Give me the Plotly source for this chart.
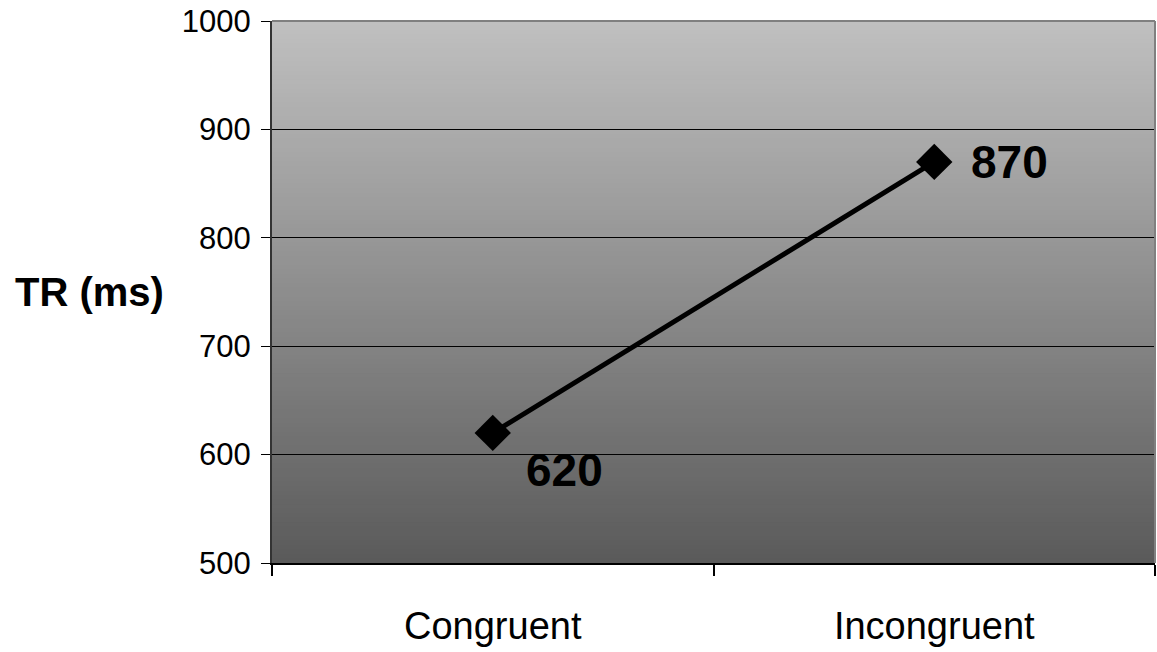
import plotly.graph_objects as go

categories = ["Congruent", "Incongruent"]
values = [620, 870]
value_labels = ["620", "870"]
label_xshift = [31, 35]
label_yshift = [-37, 0]
y_ticks = [500, 600, 700, 800, 900, 1000]

FONT = "Liberation Sans, Arial, sans-serif"

fig = go.Figure()
fig.add_trace(go.Scatter(
    x=categories, y=values, mode="lines+markers",
    line=dict(color="black", width=5),
    marker=dict(symbol="diamond", size=28, color="black"),
    hoverinfo="skip", showlegend=False,
))

# gradient background: overlapping bands from dark (bottom) to light (top)
n = 120
top, bot = 192, 90
shapes = []
for i in range(n):
    f = (i + 0.5) / n
    c = round(bot + (top - bot) * f)
    shapes.append(dict(
        type="rect", xref="x domain", yref="y domain",
        x0=0, x1=1, y0=i / n, y1=1,
        fillcolor=f"rgb({c},{c},{c})", line=dict(width=0), layer="below",
    ))
# top and right borders
shapes.append(dict(type="line", xref="x domain", yref="y domain", x0=0, x1=1, y0=1, y1=1,
                   line=dict(color="#808080", width=2), layer="above"))
shapes.append(dict(type="line", xref="x domain", yref="y domain", x0=1, x1=1, y0=0, y1=1,
                   line=dict(color="#808080", width=2), layer="above"))

annotations = []
for cat, v, t, dx, dy in zip(categories, values, value_labels, label_xshift, label_yshift):
    annotations.append(dict(
        x=cat, y=v, xref="x", yref="y", text=t, showarrow=False,
        xanchor="left", yanchor="middle", xshift=dx, yshift=dy,
        font=dict(family=FONT, size=46, color="black", weight="bold"),
    ))
annotations.append(dict(
    x=0, xref="paper", xanchor="right", xshift=-106, y=0.5, yref="paper", yanchor="middle",
    text="TR (ms)", showarrow=False,
    font=dict(family=FONT, size=40, color="black", weight="bold"),
))

fig.update_layout(
    width=1157, height=652,
    margin=dict(l=272, r=2, t=21, b=89),
    paper_bgcolor="white", plot_bgcolor="rgba(0,0,0,0)",
    shapes=shapes, annotations=annotations,
    xaxis=dict(
        type="category", range=[-0.5, 1.5], tickson="boundaries",
        ticks="outside", ticklen=11, tickwidth=2, tickcolor="black",
        showline=True, linecolor="black", linewidth=2, showgrid=False,
        tickfont=dict(family=FONT, size=38, color="black"),
        ticklabelstandoff=28,
    ),
    yaxis=dict(
        range=[500, 1000], tickvals=y_ticks, ticktext=[str(v) for v in y_ticks],
        ticks="outside", ticklen=9, tickwidth=1, tickcolor="black",
        showline=True, linecolor="#333333", linewidth=2,
        showgrid=True, gridcolor="black", gridwidth=1, zeroline=False,
        tickfont=dict(family=FONT, size=31, color="black"),
        ticklabelstandoff=4,
    ),
)

fig.write_html(
    "out.html",
    config={"displayModeBar": False, "staticPlot": True},
    post_script="document.body.style.margin='0';document.body.style.overflow='hidden';",
)
